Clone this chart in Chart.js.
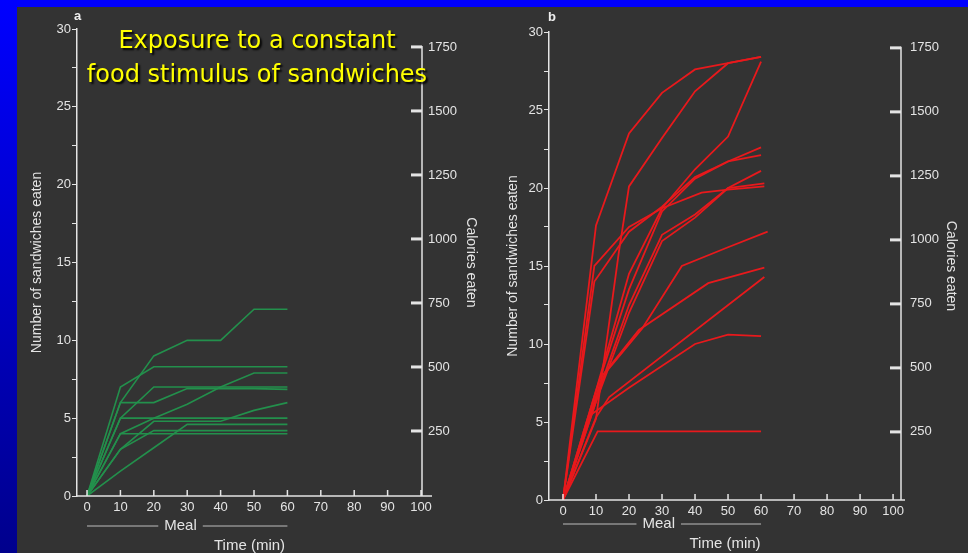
<!DOCTYPE html>
<html>
<head>
<meta charset="utf-8">
<script src="https://cdn.jsdelivr.net/npm/chart.js@4"></script>
<style>
  html, body { margin: 0; padding: 0; }
  body {
    width: 968px; height: 553px; background: #333333;
    position: relative; overflow: hidden;
    font-family: "Liberation Sans", Arial, sans-serif;
  }
  #topBar { position: absolute; left: 0; top: 0; width: 968px; height: 7px; background: #0000ff; }
  #sideBar { position: absolute; left: 0; top: 0; width: 17px; height: 553px; background: linear-gradient(#0000ff, #00008c); }
  canvas { position: absolute; }
  #chartA { left: 17px; top: 7px; }
  #chartB { left: 480px; top: 7px; }
  .panel-tag { position: absolute; color: #eeeeee; font-weight: bold; font-size: 13px; line-height: 13px; }
  #headline {
    position: absolute; left: 57px; top: 23px; width: 400px; text-align: center;
    font-family: "DejaVu Sans", sans-serif; font-size: 24px; line-height: 34px;
    color: #ffff00; text-shadow: 2px 2px 2px #000000;
  }
</style>
</head>
<body>
<div id="topBar"></div>
<div id="sideBar"></div>
<canvas id="chartA" width="463" height="546"></canvas>
<canvas id="chartB" width="488" height="546"></canvas>
<div class="panel-tag" style="left:74px; top:9px;">a</div>
<div class="panel-tag" style="left:548px; top:10px;">b</div>
<div id="headline">Exposure to a constant<br>food stimulus of sandwiches</div>

<script>
// Sandwiches eaten over a meal: (a) constant sandwich, (b) second panel
// Panel a - one line per subject, read every 10 minutes
const mealMinutes = [0, 10, 20, 30, 40, 50, 60];
const sandwichesA = [
    [0, 6, 9, 10, 10, 12, 12],
    [0, 7, 8.3, 8.3, 8.3, 8.3, 8.3],
    [0, 4, 5, 5.9, 7, 7.9, 7.9],
    [0, 5, 7, 7, 7, 7, 7],
    [0, 6, 6, 6.9, 6.9, 6.9, 6.85],
    [0, 3, 4.8, 4.8, 4.8, 5.5, 6],
    [0, 5, 5, 5, 5, 5, 5],
    [0, 1.6, 3.1, 4.6, 4.6, 4.6, 4.6],
    [0, 3, 4.2, 4.2, 4.2, 4.2, 4.2],
    [0, 4, 4, 4, 4, 4, 4]
];

// Panel b - corners do not fall on round minutes, so each line keeps its own times
const minutesB = [
    [0, 10, 20, 30, 40, 50, 60],
    [0, 10, 17, 20, 30, 40, 50, 60],
    [0, 10, 20, 30, 40, 50, 60],
    [0, 9.5, 20, 30, 40, 50, 60],
    [0, 10, 20, 30, 40, 50, 60],
    [0, 9.5, 20, 30, 42, 50, 61],
    [0, 10, 20, 30, 40, 50, 60],
    [0, 10, 20, 30, 40, 50, 61],
    [0, 13, 24, 36, 50, 62],
    [0, 12, 23, 44, 61],
    [0, 10, 14, 61],
    [0, 8, 20, 40, 50, 60],
    [0, 10.5, 60]
];
const sandwichesB = [
    [0, 17.6, 23.5, 26.1, 27.6, 28, 28.4],
    [0, 5.2, 16, 20.1, 23.2, 26.2, 28, 28.4],
    [0, 7, 14.5, 18.7, 21.2, 23.3, 28.1],
    [0, 14, 17.2, 18.8, 20.7, 21.7, 22.6],
    [0, 7, 13.5, 18.5, 20.6, 21.7, 22.1],
    [0, 15, 17.5, 18.7, 19.7, 19.9, 20.1],
    [0, 6.5, 12.5, 17, 18.3, 20, 21.1],
    [0, 6.3, 12, 16.6, 18.1, 20, 20.3],
    [0, 8.2, 11, 15, 16.2, 17.2],
    [0, 8, 10.9, 13.9, 14.9],
    [0, 5.3, 6.6, 14.3],
    [0, 5.4, 7.2, 10, 10.6, 10.5],
    [0, 4.4, 4.4]
];

const timeTicks = [0, 10, 20, 30, 40, 50, 60, 70, 80, 90, 100];
const sandwichTicks = [0, 2.5, 5, 7.5, 10, 12.5, 15, 17.5, 20, 22.5, 25, 27.5, 30];
const calorieTicks = [250, 500, 750, 1000, 1250, 1500, 1750];

const axisColor = '#e4e4e4';
Chart.defaults.font.family = '"Liberation Sans", Arial, sans-serif';
Chart.defaults.color = axisColor;

// extra axis pieces: inward x ticks, short calorie axis with thick bars, "Meal" bracket
const axisDecor = {
    id: 'axisDecor',
    afterDraw: function (chart, args, opts) {
        const ctx = chart.ctx;
        const area = chart.chartArea;
        const xs = chart.scales.x;
        const y2 = chart.scales.y2;
        ctx.save();
        ctx.strokeStyle = axisColor;
        ctx.fillStyle = axisColor;

        ctx.lineWidth = 1.5;
        ctx.beginPath();
        ctx.moveTo(area.left, area.bottom);
        ctx.lineTo(area.right + opts.overhang, area.bottom);
        timeTicks.forEach(function (v) {
            const px = xs.getPixelForValue(v);
            ctx.moveTo(px, area.bottom);
            ctx.lineTo(px, area.bottom - 6);
        });
        ctx.moveTo(area.right, y2.getPixelForValue(calorieTicks[calorieTicks.length - 1]) - 1);
        ctx.lineTo(area.right, area.bottom);
        ctx.stroke();

        calorieTicks.forEach(function (v) {
            const py = y2.getPixelForValue(v);
            ctx.fillRect(area.right - 11, py - 1.5, 11, 3);
        });

        // Meal bracket under the 0-60 min span
        const mx = xs.getPixelForValue(opts.mealCenter);
        const my = area.bottom + opts.mealOffset;
        ctx.font = '15px "Liberation Sans", Arial, sans-serif';
        ctx.textAlign = 'center';
        ctx.textBaseline = 'middle';
        ctx.fillText('Meal', mx, my);
        const half = ctx.measureText('Meal').width / 2;
        ctx.lineWidth = 1;
        ctx.strokeStyle = '#bdbdbd';
        ctx.beginPath();
        ctx.moveTo(xs.getPixelForValue(0), my);
        ctx.lineTo(mx - half - 6, my);
        ctx.moveTo(mx + half + 6, my);
        ctx.lineTo(xs.getPixelForValue(60), my);
        ctx.stroke();
        ctx.restore();
    }
};

function makePanel(canvasId, datasets, geo) {
    return new Chart(document.getElementById(canvasId), {
        type: 'line',
        data: { datasets: datasets },
        options: {
            responsive: false,
            animation: false,
            devicePixelRatio: 1,
            layout: { padding: { top: geo.top, left: 0, right: 0, bottom: 0 } },
            elements: { point: { radius: 0 }, line: { tension: 0 } },
            plugins: {
                legend: { display: false },
                tooltip: { enabled: false },
                axisDecor: { overhang: geo.overhang, mealCenter: geo.mealCenter, mealOffset: geo.mealOffset }
            },
            scales: {
                x: {
                    type: 'linear',
                    min: geo.xMin,
                    max: geo.xMax,
                    afterBuildTicks: function (s) { s.ticks = timeTicks.map(function (v) { return { value: v }; }); },
                    afterFit: function (s) { s.height = geo.xHeight; },
                    grid: { display: false, drawTicks: false },
                    border: { display: false },
                    ticks: {
                        autoSkip: false, maxRotation: 0, padding: 4, font: { size: 13 }, color: axisColor,
                        callback: function (v) { return String(v); }
                    },
                    title: {
                        display: true, text: 'Time (min)', color: axisColor,
                        font: { size: 15, lineHeight: 1 }, padding: { top: 0, bottom: geo.xTitlePad }
                    }
                },
                y: {
                    min: 0,
                    max: 30,
                    afterBuildTicks: function (s) { s.ticks = sandwichTicks.map(function (v) { return { value: v }; }); },
                    afterFit: function (s) { s.width = geo.yWidth; },
                    grid: { display: true, drawOnChartArea: false, drawTicks: true, tickLength: 5, color: axisColor },
                    border: { display: true, color: axisColor, width: 1.5 },
                    ticks: {
                        autoSkip: false, padding: 1, font: { size: 13 }, color: axisColor,
                        callback: function (v) { return v % 5 === 0 ? String(v) : ''; }
                    },
                    title: {
                        display: true, text: 'Number of sandwiches eaten', color: axisColor,
                        font: { size: 14, lineHeight: 1 }, padding: { top: geo.yTitlePad, bottom: 0 }
                    }
                },
                y2: {
                    position: 'right',
                    min: geo.calMin,
                    max: geo.calMax,
                    afterBuildTicks: function (s) { s.ticks = calorieTicks.map(function (v) { return { value: v }; }); },
                    afterFit: function (s) { s.width = geo.y2Width; },
                    grid: { display: false, drawTicks: false },
                    border: { display: false },
                    ticks: {
                        autoSkip: false, padding: geo.calPad, font: { size: 13 }, color: axisColor,
                        callback: function (v) { return String(v); }
                    },
                    title: {
                        display: true, text: 'Calories eaten', color: axisColor,
                        font: { size: 14, lineHeight: 1 }, padding: { top: geo.y2TitlePad, bottom: 0 }
                    }
                }
            }
        },
        plugins: [axisDecor]
    });
}

const greenSets = sandwichesA.map(function (vals) {
    return {
        data: vals.map(function (v, i) { return { x: mealMinutes[i], y: v }; }),
        borderColor: '#23904c',
        borderWidth: 1.6,
        yAxisID: 'y'
    };
});

const redSets = sandwichesB.map(function (vals, k) {
    return {
        data: vals.map(function (v, i) { return { x: minutesB[k][i], y: v }; }),
        borderColor: '#e8191c',
        borderWidth: 1.8,
        yAxisID: 'y'
    };
});

makePanel('chartA', greenSets, {
    top: 22, xMin: -3, xMax: 100.3, xHeight: 57, yWidth: 60, y2Width: 58,
    calMin: -4, calMax: 1820, calPad: 6,
    xTitlePad: 0, yTitlePad: 13, y2TitlePad: 2,
    overhang: 10, mealCenter: 28, mealOffset: 30
});

makePanel('chartB', redSets, {
    top: 25, xMin: -4.24, xMax: 102.4, xHeight: 53, yWidth: 69, y2Width: 67,
    calMin: -16, calMax: 1812, calPad: 9,
    xTitlePad: 1.5, yTitlePad: 26, y2TitlePad: 10,
    overhang: 4, mealCenter: 29, mealOffset: 24
});
</script>
</body>
</html>
